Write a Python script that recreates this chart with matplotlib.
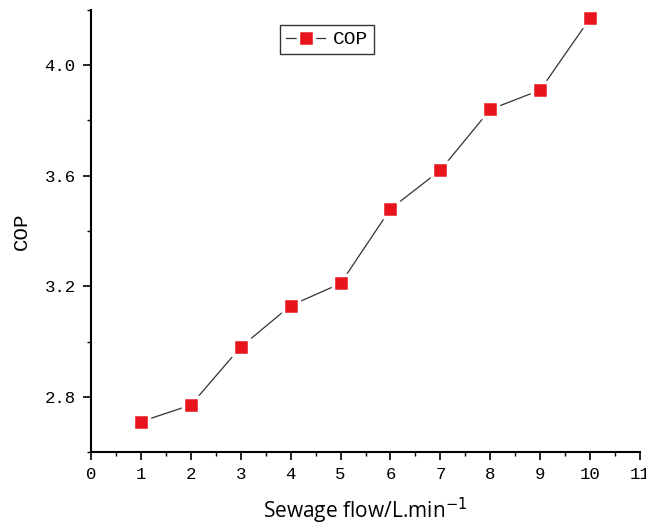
import matplotlib
matplotlib.use("Agg")
import matplotlib.pyplot as plt
from matplotlib.ticker import MultipleLocator

# sewage flow (L/min) and measured COP
flow = [1, 2, 3, 4, 5, 6, 7, 8, 9, 10]
cop = [2.71, 2.77, 2.98, 3.13, 3.21, 3.48, 3.62, 3.84, 3.91, 4.17]

x_ticks = list(range(0, 12))
y_ticks = [2.8, 3.2, 3.6, 4.0]

tick_font = "Liberation Mono"

fig = plt.figure(figsize=(6.46, 5.25), dpi=100)
ax = fig.add_axes([0.1409, 0.139, 0.8498, 0.842])

ax.plot(flow, cop, color="#333333", linewidth=0.9, marker="s", markersize=12,
        markerfacecolor="#e8141c", markeredgecolor="white", markeredgewidth=2.5,
        label="COP")

ax.set_xlim(0, 11)
ax.set_ylim(2.6, 4.2)
ax.set_xticks(x_ticks)
ax.set_yticks(y_ticks)
ax.set_yticklabels(["%.1f" % v for v in y_ticks])
ax.xaxis.set_minor_locator(MultipleLocator(0.5))
ax.yaxis.set_minor_locator(MultipleLocator(0.2))

for s in ["top", "right"]:
    ax.spines[s].set_visible(False)
for s in ["left", "bottom"]:
    ax.spines[s].set_linewidth(1.5)

ax.tick_params(which="major", direction="out", length=6, width=1.2, pad=5)
ax.tick_params(which="minor", direction="out", length=3, width=1.0)
for lab in ax.get_xticklabels() + ax.get_yticklabels():
    lab.set_fontfamily(tick_font)
    lab.set_fontsize(12.5)

ax.set_xlabel("Sewage flow/L.min$^{-1}$", fontfamily="Open Sans", fontsize=15, labelpad=10)
ax.set_ylabel("COP", fontfamily=tick_font, fontsize=15, labelpad=10)

leg = ax.legend(loc="center", bbox_to_anchor=(0.43, 0.933), frameon=True, fancybox=False,
                prop={"family": tick_font, "size": 14}, handlelength=2.0,
                borderpad=0.3, handletextpad=0.4)
leg.get_frame().set_edgecolor("black")
leg.get_frame().set_linewidth(1.0)

fig.savefig("out.png", dpi=100)
